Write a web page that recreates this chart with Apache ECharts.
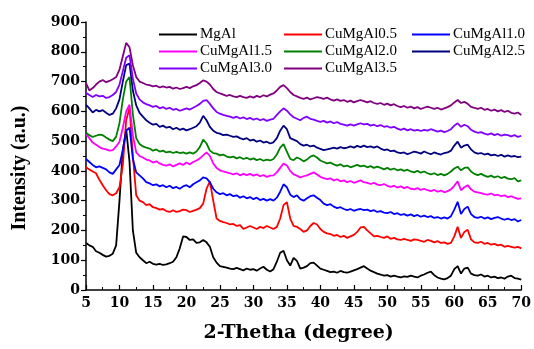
<!DOCTYPE html>
<html>
<head>
<meta charset="utf-8">
<script src="https://cdn.jsdelivr.net/npm/echarts/dist/echarts.min.js"></script>
<style>
html,body{margin:0;padding:0;background:#fff;}
#chart{width:534px;height:349px;}
</style>
</head>
<body>
<div id="chart"></div>
<script>
// 2-theta grid (degree), 0.5 step
var theta = [5,5.5,6,6.5,7,7.5,8,8.5,9,9.5,10,10.5,11,11.5,12,12.5,13,13.5,14,14.5,15,15.5,16,16.5,17,17.5,18,18.5,19,19.5,
20,20.5,21,21.5,22,22.5,23,23.5,24,24.5,25,25.5,26,26.5,27,27.5,28,28.5,29,29.5,30,30.5,31,31.5,32,32.5,33,33.5,34,34.5,
35,35.5,36,36.5,37,37.5,38,38.5,39,39.5,40,40.5,41,41.5,42,42.5,43,43.5,44,44.5,45,45.5,46,46.5,47,47.5,48,48.5,49,49.5,
50,50.5,51,51.5,52,52.5,53,53.5,54,54.5,55,55.5,56,56.5,57,57.5,58,58.5,59,59.5,60,60.5,61,61.5,62,62.5,63,63.5,64,64.5,
65,65.5,66,66.5,67,67.5,68,68.5,69,69.5,70];

var names = ['MgAl','CuMgAl0.5','CuMgAl1.0','CuMgAl1.5','CuMgAl2.0','CuMgAl2.5','CuMgAl3.0','CuMgAl3.5'];
var colors = ['#000000','#ff0000','#0000ff','#ff00ff','#008000','#000080','#8000ff','#800080'];
var yTicks = [0,100,200,300,400,500,600,700,800,900];

var mgal = [158,150,145,130,125,118,112,115,122,150,300,470,540,430,200,125,110,100,90,95,88,85,88,84,86,90,95,110,140,180,
178,168,170,158,160,168,160,145,110,92,80,78,75,72,70,74,70,66,72,68,70,65,72,78,68,62,70,95,125,132,
100,82,108,98,72,75,80,90,92,82,72,68,64,60,62,58,64,60,58,62,66,70,75,80,72,65,60,55,52,48,
50,45,48,45,42,46,44,48,45,42,48,52,58,62,50,42,38,36,40,48,70,80,55,72,75,55,50,48,52,45,
48,42,45,40,42,38,45,48,40,38,35];

var cu05 = [412,405,398,392,370,352,335,322,318,325,345,420,570,612,450,318,300,295,285,288,278,275,270,272,265,262,268,262,265,270,
268,262,266,270,275,290,340,365,300,240,232,228,225,220,222,215,218,205,210,215,210,205,212,208,215,210,205,212,240,285,
295,240,215,212,205,195,200,215,225,220,205,195,190,188,182,185,178,182,175,180,185,195,210,212,200,190,180,182,178,175,
180,172,175,170,168,172,168,165,170,168,165,162,168,165,160,164,158,160,155,158,180,212,175,195,202,170,160,158,162,155,
158,152,155,150,152,145,148,145,142,145,140];

var cu10 = [440,430,420,412,415,410,405,395,390,405,420,470,535,545,440,395,385,375,362,358,352,355,348,352,345,350,342,346,340,348,
352,345,355,362,368,378,375,362,340,328,322,325,318,322,315,318,310,315,308,312,305,310,302,306,300,305,300,310,330,355,
345,320,312,318,305,300,308,315,318,310,302,290,285,288,280,275,278,272,268,272,266,270,272,268,270,265,268,262,265,260,
258,262,255,258,252,255,250,254,248,252,246,250,245,248,242,245,240,244,240,248,270,296,255,272,280,255,245,242,246,240,
244,238,242,245,240,236,240,235,238,230,235];

var cu15 = [525,510,495,488,480,475,472,468,470,482,498,545,600,622,520,462,450,445,438,435,428,432,425,420,418,422,415,420,425,420,
428,422,430,435,442,452,462,450,425,410,402,398,395,392,388,392,385,390,386,390,384,388,382,386,380,384,385,395,410,425,
418,400,388,384,378,382,385,390,395,388,380,376,372,375,368,372,365,368,362,366,360,364,368,362,360,356,360,354,352,356,
350,346,350,344,348,342,346,340,338,342,336,340,335,332,336,330,334,328,332,338,350,365,335,345,352,338,330,328,325,322,
320,324,318,320,315,318,312,315,310,306,308];

var cu20 = [528,520,514,518,522,520,512,505,500,515,560,640,700,715,590,510,490,482,478,475,468,472,465,468,462,465,460,464,460,462,
458,462,458,465,480,505,492,468,460,458,452,455,448,445,448,442,446,440,444,438,442,436,440,434,438,435,440,455,478,490,
465,440,436,445,440,432,438,448,452,445,435,430,425,428,422,418,422,415,418,412,416,420,415,418,412,416,410,414,410,405,
410,404,408,402,405,400,404,398,395,400,394,398,392,388,392,386,390,385,390,398,408,414,402,410,412,398,390,386,390,384,
380,384,378,382,376,380,374,372,376,365,368];

var cu25 = [622,610,596,605,600,604,595,588,592,610,640,700,755,760,670,620,595,582,570,562,555,558,548,552,545,548,540,545,538,542,
536,540,545,550,562,585,570,548,535,528,525,520,522,518,514,516,510,506,510,502,505,498,502,495,498,492,496,510,535,552,
540,510,505,500,490,485,488,482,485,478,474,470,472,475,478,475,480,476,478,482,478,484,480,485,480,482,478,482,475,470,
472,466,468,462,460,462,456,460,465,462,458,465,460,456,462,458,455,460,462,468,485,498,478,485,488,472,462,458,460,455,
458,452,455,450,454,448,452,448,450,446,448];

var cu30 = [662,655,648,655,650,652,645,648,655,665,690,735,780,788,710,660,640,630,624,620,615,618,610,614,608,612,605,608,602,606,
610,606,612,618,625,635,638,625,610,598,592,588,585,582,578,582,576,580,574,578,572,576,570,574,568,572,575,588,600,610,
602,590,580,575,570,578,582,575,572,568,565,568,562,566,560,564,558,555,552,556,552,556,560,556,558,552,555,550,554,548,
550,545,548,542,538,542,536,540,535,538,534,538,535,540,536,532,535,530,534,540,552,560,548,555,550,538,532,528,530,525,
522,526,520,524,518,522,520,516,520,514,518];

var cu35 = [695,670,678,690,700,705,698,702,708,715,740,785,830,815,755,715,700,695,690,688,684,686,680,684,680,682,676,680,675,678,
682,678,684,688,695,704,700,690,675,665,660,656,652,655,650,648,652,648,645,650,646,652,648,654,650,656,660,670,682,688,
678,665,655,650,645,642,646,640,644,648,645,642,646,640,636,640,635,638,632,636,630,634,638,634,630,634,628,625,628,622,
626,620,624,618,614,618,612,616,610,614,608,612,616,612,608,612,606,610,614,620,630,638,628,632,625,615,612,608,612,605,
608,602,606,600,604,598,602,595,592,596,588];

var values = [mgal, cu05, cu10, cu15, cu20, cu25, cu30, cu35];

var serif = '"Liberation Serif", "Times New Roman", serif';
var wideSerif = '"DejaVu Serif", serif';

var series = [];
function each(arr, fn) { for (var i = 0; i < arr.length; i++) fn(i, arr[i]); }
each(names, function(i, n){
    var pts = [];
    each(theta, function(j, t){ pts.push([t, values[i][j]]); });
    series.push({
        name: n,
        type: 'line',
        data: pts,
        symbol: 'none',
        lineStyle: { color: colors[i], width: 1.8 },
        itemStyle: { color: colors[i] }
    });
});

function legendCol(left, data) {
    return {
        left: left, top: 22, orient: 'vertical',
        itemWidth: 38, itemHeight: 14, itemGap: 2,
        itemStyle: { opacity: 0 },
        data: data,
        textStyle: { fontFamily: serif, fontSize: 15, color: '#000', padding: [0, 0, 0, -2] }
    };
}

var myChart = echarts.init(document.getElementById('chart'));
var option = {
    animation: false,
    backgroundColor: '#fff',
    grid: { left: 86, right: 12, top: 22, bottom: 59 },
    legend: [
        legendCol(153, ['MgAl', 'CuMgAl1.5', 'CuMgAl3.0']),
        legendCol(278, ['CuMgAl0.5', 'CuMgAl2.0', 'CuMgAl3.5']),
        legendCol(406, ['CuMgAl1.0', 'CuMgAl2.5'])
    ],
    xAxis: {
        type: 'value', min: 5, max: 70, interval: 5,
        name: '2-Thetha (degree)', nameLocation: 'middle', nameGap: 34,
        nameTextStyle: { fontFamily: wideSerif, fontSize: 19, fontWeight: 'bold', color: '#000', padding: [0, 10, 0, 0] },
        axisLine: { lineStyle: { color: '#000', width: 1.5 } },
        axisTick: { inside: true, length: 5, lineStyle: { color: '#000', width: 1.2 } },
        minorTick: { show: true, splitNumber: 2, length: 3, lineStyle: { color: '#000' } },
        axisLabel: { fontFamily: wideSerif, fontSize: 14, fontWeight: 'bold', color: '#000', margin: 6 },
        splitLine: { show: false }
    },
    yAxis: {
        type: 'value', min: yTicks[0], max: yTicks[yTicks.length - 1], interval: 100,
        name: 'Intensity (a.u.)', nameLocation: 'middle', nameGap: 56,
        nameTextStyle: { fontFamily: serif, fontSize: 20, fontWeight: 'bold', color: '#000', padding: [0, 24, 0, 0] },
        axisLine: { show: true, lineStyle: { color: '#000', width: 1.5 } },
        axisTick: { show: true, length: 5, lineStyle: { color: '#000', width: 1.2 } },
        minorTick: { show: true, splitNumber: 2, length: 3, lineStyle: { color: '#000' } },
        axisLabel: { fontFamily: wideSerif, fontSize: 14, fontWeight: 'bold', color: '#000', margin: 6 },
        splitLine: { show: false }
    },
    series: series
};
myChart.setOption(option);
</script>
</body>
</html>
